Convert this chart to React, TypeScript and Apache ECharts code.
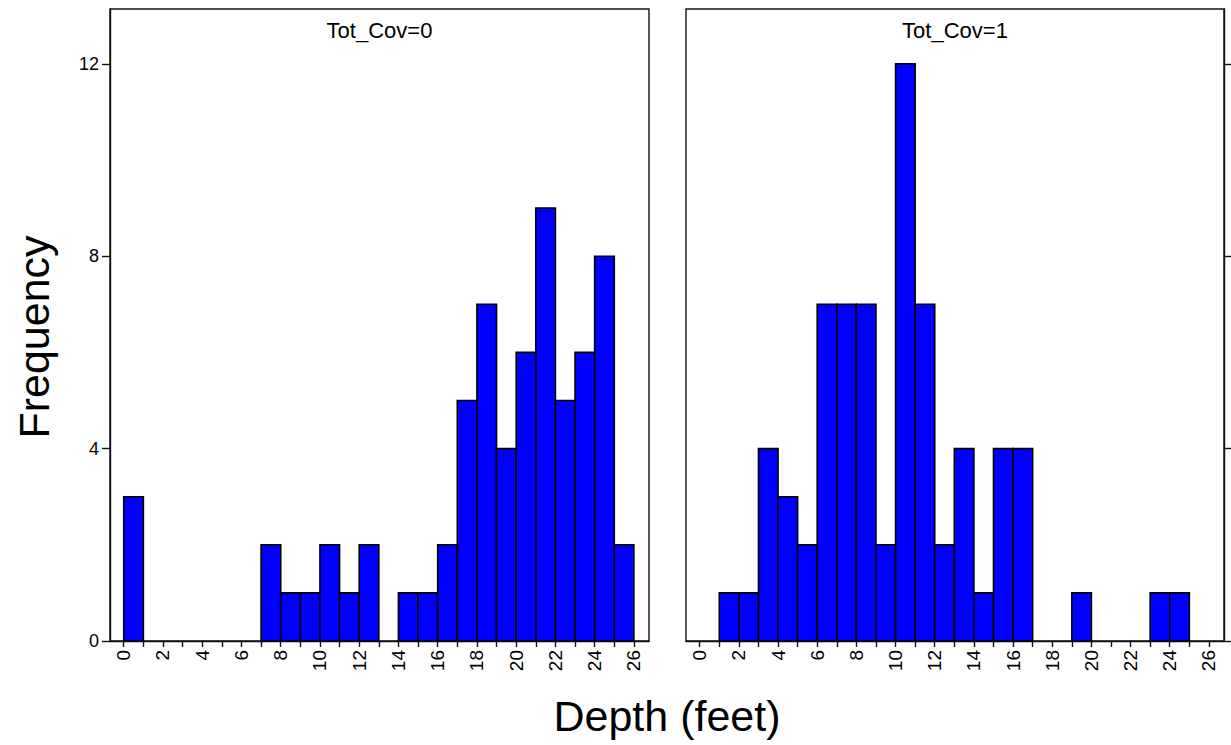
import React, { useEffect, useRef } from "react";
import * as echarts from "echarts";

const binEdges = [0, 1, 2, 3, 4, 5, 6, 7, 8, 9, 10, 11, 12, 13, 14, 15, 16, 17, 18, 19, 20, 21, 22, 23, 24, 25, 26];
const countsCov0 = [3, 0, 0, 0, 0, 0, 0, 2, 1, 1, 2, 1, 2, 0, 1, 1, 2, 5, 7, 4, 6, 9, 5, 6, 8, 2];
const countsCov1 = [0, 1, 1, 4, 3, 2, 7, 7, 7, 2, 12, 7, 2, 4, 1, 4, 4, 0, 0, 1, 0, 0, 0, 1, 1, 0];
const xTickValues = [0, 1, 2, 3, 4, 5, 6, 7, 8, 9, 10, 11, 12, 13, 14, 15, 16, 17, 18, 19, 20, 21, 22, 23, 24, 25, 26];
const xLabelValues = [0, 2, 4, 6, 8, 10, 12, 14, 16, 18, 20, 22, 24, 26];
const yTickValues = [0, 4, 8, 12];
const panelTitles = ["Tot_Cov=0", "Tot_Cov=1"];
const xTitle = "Depth (feet)";
const yTitle = "Frequency";

const FONT = "'Liberation Sans', Arial, sans-serif";

function toBins(counts: number[]) {
  return counts.map((c, i) => [binEdges[i], binEdges[i + 1], c]);
}

export default function App() {
  const ref = useRef<HTMLDivElement>(null);
  useEffect(() => {
    if (!ref.current) return;
    const chart = echarts.init(ref.current, null, { renderer: "svg" });
    const xMin = -0.7;
    const xMax = 26.77;
    const grids = [
      { left: 110, top: 9, width: 539, height: 632 },
      { left: 686, top: 9, width: 538, height: 632 },
    ];
    const renderItem = (params: any, api: any) => {
      const x0 = api.value(0);
      const x1 = api.value(1);
      const y = api.value(2);
      if (!y) return null;
      const p0 = api.coord([x0, 0]);
      const p1 = api.coord([x1, y]);
      return {
        type: "rect",
        shape: { x: p0[0], y: p1[1], width: p1[0] - p0[0], height: p0[1] - p1[1] },
        style: { fill: "#0000FF", stroke: "#000", lineWidth: 1.6 },
      };
    };
    const mkX = (gi: number) => ({
      type: "value",
      gridIndex: gi,
      min: xMin,
      max: xMax,
      splitLine: { show: false },
      axisLine: { show: true, onZero: false, lineStyle: { color: "#111", width: 1.4 } },
      axisTick: { show: true, customValues: xTickValues, length: 6, lineStyle: { color: "#111", width: 1.4 } },
      axisLabel: {
        show: true,
        customValues: xLabelValues,
        rotate: 90,
        margin: 9,
        fontSize: 19,
        fontFamily: FONT,
        color: "#000",
      },
    });
    const mkY = (gi: number, pos: string, labels: boolean) => ({
      type: "value",
      gridIndex: gi,
      position: pos,
      min: 0,
      max: 13.14,
      splitLine: { show: false },
      axisLine: { show: true, onZero: false, lineStyle: { color: "#111", width: 1.4 } },
      axisTick: { show: true, customValues: yTickValues, length: 8, lineStyle: { color: "#111", width: 1.4 } },
      axisLabel: {
        show: labels,
        customValues: yTickValues,
        margin: 11,
        fontSize: 18,
        fontFamily: FONT,
        color: "#000",
      },
    });
    chart.setOption({
      animation: false,
      backgroundColor: "#fff",
      grid: grids.map((g) => ({ ...g, show: true, borderColor: "#111", borderWidth: 1.4, backgroundColor: "transparent" })),
      xAxis: [mkX(0), mkX(1)],
      yAxis: [mkY(0, "left", true), mkY(1, "right", false)],
      series: [
        { type: "custom", xAxisIndex: 0, yAxisIndex: 0, renderItem, encode: { x: [0, 1], y: 2 }, data: toBins(countsCov0) },
        { type: "custom", xAxisIndex: 1, yAxisIndex: 1, renderItem, encode: { x: [0, 1], y: 2 }, data: toBins(countsCov1) },
      ],
      graphic: [
        {
          type: "text",
          x: 379.5,
          y: 30,
          style: { text: panelTitles[0], textAlign: "center", textVerticalAlign: "middle", font: `22px ${FONT}`, fill: "#000" },
        },
        {
          type: "text",
          x: 955,
          y: 30,
          style: { text: panelTitles[1], textAlign: "center", textVerticalAlign: "middle", font: `22px ${FONT}`, fill: "#000" },
        },
        {
          type: "text",
          x: 667,
          y: 716,
          style: { text: xTitle, textAlign: "center", textVerticalAlign: "middle", font: `43px ${FONT}`, fill: "#000" },
        },
        {
          type: "text",
          x: 34,
          y: 337,
          rotation: Math.PI / 2,
          style: { text: yTitle, textAlign: "center", textVerticalAlign: "middle", font: `43px ${FONT}`, fill: "#000" },
        },
      ],
    });
    return () => chart.dispose();
  }, []);
  return (
    <div
      ref={ref}
      style={{ position: "absolute", left: 0, top: 0, width: 1231, height: 745, background: "#fff" }}
    />
  );
}
